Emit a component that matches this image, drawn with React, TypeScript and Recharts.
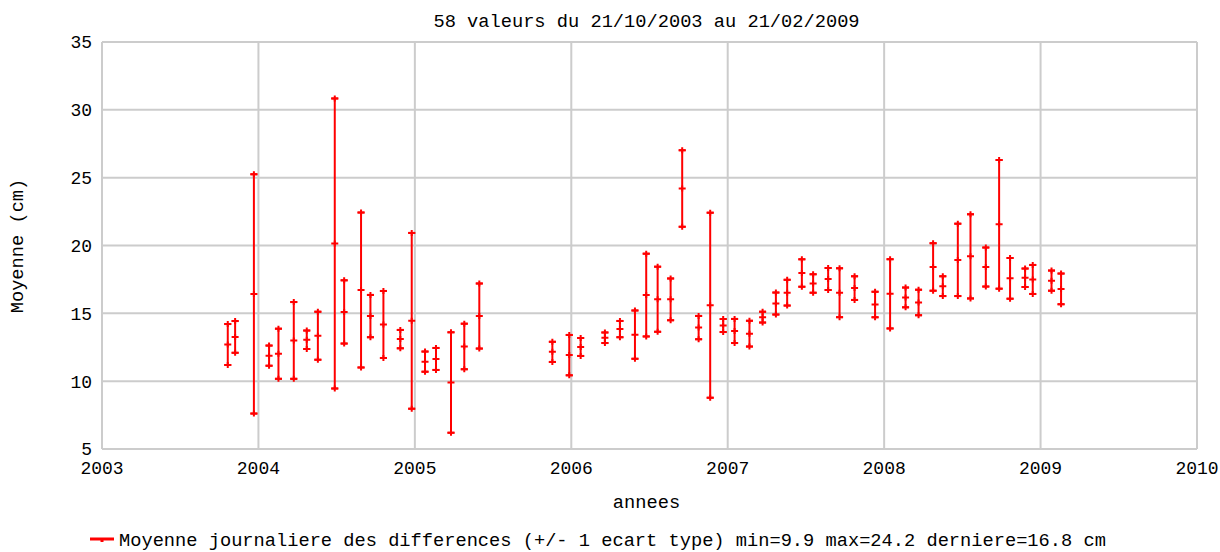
import { ScatterChart, Scatter, XAxis, YAxis, CartesianGrid, ErrorBar } from 'recharts';

// dates en annees decimales, moyennes (cm) et ecarts types (cm)
const dates = [
  2003.804, 2003.851, 2003.971, 2004.068, 2004.128, 2004.226, 2004.309, 2004.380, 2004.488, 2004.548,
  2004.656, 2004.716, 2004.799, 2004.907, 2004.980, 2005.065, 2005.135, 2005.231, 2005.316, 2005.412,
  2005.879, 2005.987, 2006.060, 2006.215, 2006.311, 2006.407, 2006.479, 2006.552, 2006.635, 2006.709,
  2006.814, 2006.888, 2006.971, 2007.044, 2007.139, 2007.223, 2007.308, 2007.380, 2007.474, 2007.546,
  2007.642, 2007.715, 2007.811, 2007.942, 2008.038, 2008.137, 2008.220, 2008.313, 2008.375, 2008.471,
  2008.552, 2008.650, 2008.735, 2008.805, 2008.901, 2008.950, 2009.070, 2009.131,
];
const moyennes = [
  12.7, 13.26, 16.43, 11.88, 12.02, 13.0, 13.05, 13.35, 20.15, 15.1,
  16.72, 14.8, 14.18, 13.1, 14.45, 11.44, 11.64, 9.9, 12.56, 14.8,
  12.16, 11.92, 12.52, 13.2, 13.84, 13.43, 16.35, 16.04, 16.03, 24.2,
  13.95, 15.6, 14.1, 13.7, 13.5, 14.72, 15.72, 16.52, 17.97, 17.2,
  17.53, 16.52, 16.86, 15.65, 16.44, 16.17, 15.8, 18.42, 17.0, 18.94,
  19.2, 18.41, 21.56, 17.58, 17.62, 17.5, 17.41, 16.8,
];
const ecarts = [
  1.51, 1.17, 8.82, 0.74, 1.85, 2.83, 0.68, 1.77, 10.69, 2.33,
  5.71, 1.56, 2.47, 0.68, 6.48, 0.74, 0.81, 3.7, 1.68, 2.4,
  0.74, 1.49, 0.66, 0.39, 0.6, 1.78, 3.05, 2.4, 1.54, 2.82,
  0.86, 6.82, 0.48, 0.89, 0.95, 0.4, 0.81, 0.95, 1.01, 0.68,
  0.81, 1.8, 0.87, 0.94, 2.55, 0.73, 0.94, 1.75, 0.73, 2.67,
  3.1, 1.44, 4.74, 1.5, 0.68, 1.07, 0.74, 1.13,
];
const xTicks = [2003, 2004, 2005, 2006, 2007, 2008, 2009, 2010];
const yTicks = [5, 10, 15, 20, 25, 30, 35];

const data = dates.map((t, i) => ({
  t,
  mean: moyennes[i],
  low: moyennes[i] - ecarts[i],
  high: moyennes[i] + ecarts[i],
  err: ecarts[i],
}));

const RED = '#ff0000';
const MONO = '"Liberation Mono", "DejaVu Sans Mono", monospace';

const Cross = (props: any) => {
  const { cx, cy } = props;
  if (cx == null || cy == null) return null;
  return (
    <path
      d={`M${cx - 3.5},${cy} H${cx + 3.5} M${cx},${cy - 3} V${cy + 3}`}
      stroke={RED}
      strokeWidth={2}
      fill="none"
    />
  );
};

export default function App() {
  return (
    <div style={{ position: 'absolute', left: 0, top: 0, width: 1220, height: 552, background: '#fff', fontFamily: MONO }}>
      <div style={{ position: 'absolute', left: 99, top: 12, width: 1095, textAlign: 'center', fontSize: 18.7, lineHeight: '20px', color: '#000' }}>
        58 valeurs du 21/10/2003 au 21/02/2009
      </div>
      <ScatterChart width={1220} height={552} margin={{ top: 42, right: 23, bottom: 73, left: 42 }}>
        <CartesianGrid stroke="#cccccc" strokeWidth={2} horizontalValues={yTicks} verticalValues={xTicks} />
        <XAxis
          type="number"
          dataKey="t"
          domain={[2003, 2010]}
          ticks={xTicks}
          allowDataOverflow
          height={30}
          tickLine={false}
          tickMargin={6}
          axisLine={{ stroke: '#cccccc', strokeWidth: 2 }}
          tick={{ fill: '#000', fontSize: 18, fontFamily: MONO }}
        />
        <YAxis
          type="number"
          domain={[5, 35]}
          ticks={yTicks}
          allowDataOverflow
          width={60}
          tickLine={false}
          tickMargin={4}
          axisLine={{ stroke: '#cccccc', strokeWidth: 2 }}
          tick={{ fill: '#000', fontSize: 18, fontFamily: MONO }}
        />
        <Scatter data={data} dataKey="mean" shape={<Cross />} isAnimationActive={false}>
          <ErrorBar dataKey="err" direction="y" width={3.5} stroke={RED} strokeWidth={2} isAnimationActive={false} />
        </Scatter>
        <Scatter data={data} dataKey="low" shape={<Cross />} isAnimationActive={false} />
        <Scatter data={data} dataKey="high" shape={<Cross />} isAnimationActive={false} />
      </ScatterChart>
      <div style={{ position: 'absolute', left: 99, top: 493, width: 1095, textAlign: 'center', fontSize: 18.7, lineHeight: '20px', color: '#000' }}>
        annees
      </div>
      <div
        style={{
          position: 'absolute',
          left: 18,
          top: 246,
          transform: 'translate(-50%, -50%) rotate(-90deg)',
          whiteSpace: 'nowrap',
          fontSize: 18.7,
          lineHeight: '20px',
          color: '#000',
        }}
      >
        Moyenne (cm)
      </div>
      <svg style={{ position: 'absolute', left: 88, top: 532 }} width={30} height={16}>
        <path d="M2,7 H26 M14,7 V10" stroke={RED} strokeWidth={3} fill="none" />
      </svg>
      <div style={{ position: 'absolute', left: 119, top: 531, whiteSpace: 'nowrap', fontSize: 18.7, lineHeight: '20px', color: '#000' }}>
        Moyenne journaliere des differences (+/- 1 ecart type) min=9.9 max=24.2 derniere=16.8 cm
      </div>
    </div>
  );
}
